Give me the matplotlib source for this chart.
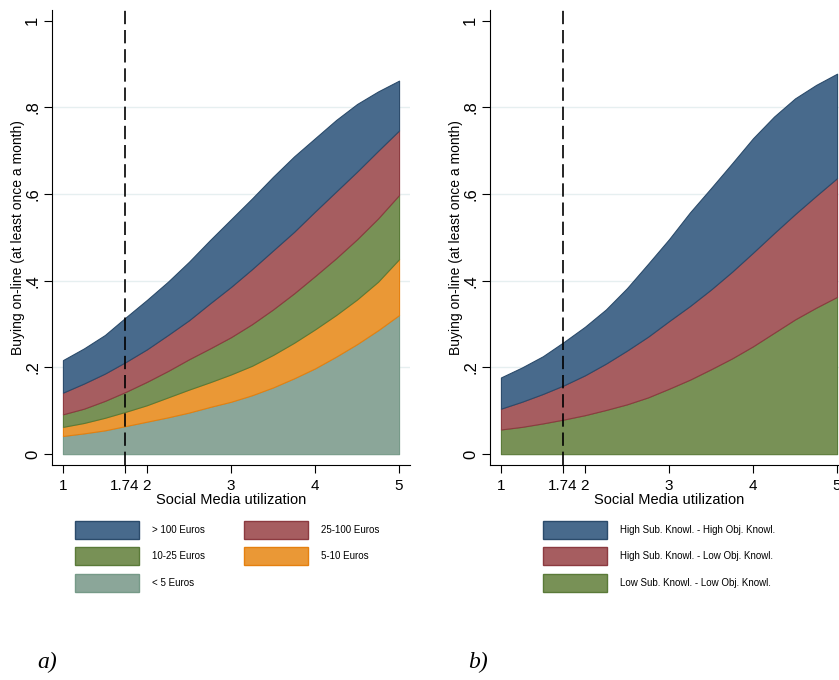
import numpy as np
import matplotlib as mpl
mpl.use('Agg')
import matplotlib.pyplot as plt  # noqa
from matplotlib.patches import Rectangle  # noqa

plt.rcParams['font.family'] = ['Liberation Sans', 'DejaVu Sans']

# social media utilization (x) and cumulative upper bounds of each band
x = [1, 1.25, 1.5, 1.75, 2, 2.25, 2.5, 2.75, 3,
     3.25, 3.5, 3.75, 4, 4.25, 4.5, 4.75, 5]

# panel a: spending classes, stacked from bottom
a_lt5 = [0.042, 0.048, 0.055, 0.065, 0.075, 0.085, 0.096, 0.109, 0.121,
         0.136, 0.154, 0.175, 0.198, 0.225, 0.254, 0.286, 0.321]
a_5_10 = [0.063, 0.072, 0.084, 0.098, 0.113, 0.131, 0.149, 0.166, 0.184,
          0.204, 0.229, 0.257, 0.288, 0.321, 0.357, 0.398, 0.450]
a_10_25 = [0.092, 0.105, 0.123, 0.144, 0.167, 0.192, 0.219, 0.244, 0.270,
           0.300, 0.334, 0.371, 0.411, 0.452, 0.496, 0.544, 0.598]
a_25_100 = [0.142, 0.163, 0.186, 0.213, 0.242, 0.275, 0.309, 0.348, 0.386,
            0.427, 0.470, 0.513, 0.560, 0.606, 0.652, 0.700, 0.747]
a_gt100 = [0.217, 0.244, 0.275, 0.316, 0.356, 0.398, 0.444, 0.494, 0.542,
           0.590, 0.640, 0.687, 0.729, 0.771, 0.808, 0.837, 0.862]
a_labels = ['> 100 Euros', '25-100 Euros', '10-25 Euros', '5-10 Euros',
            '< 5 Euros']

# panel b: knowledge groups, stacked from bottom
b_low_low = [0.057, 0.063, 0.071, 0.080, 0.090, 0.102, 0.115, 0.131, 0.151,
             0.172, 0.196, 0.221, 0.249, 0.280, 0.311, 0.338, 0.363]
b_high_low = [0.105, 0.121, 0.139, 0.159, 0.182, 0.209, 0.239, 0.271, 0.307,
              0.342, 0.380, 0.421, 0.465, 0.510, 0.554, 0.596, 0.637]
b_high_high = [0.177, 0.200, 0.226, 0.259, 0.294, 0.334, 0.383, 0.439, 0.496,
               0.558, 0.614, 0.671, 0.729, 0.779, 0.821, 0.852, 0.878]
b_labels = ['High Sub. Knowl. - High Obj. Knowl.',
            'High Sub. Knowl. - Low Obj. Knowl.',
            'Low Sub. Knowl. - Low Obj. Knowl.']

threshold = 1.74
xticks = [1, 1.74, 2, 3, 4, 5]
xticklabels = ['1', '1.74', '2', '3', '4', '5']
yticks = [0, 0.2, 0.4, 0.6, 0.8, 1]
yticklabels = ['0', '.2', '.4', '.6', '.8', '1']

blue = ('#486a8c', '#2b4b6b')
red = ('#a65d60', '#8c3a40')
green = ('#789156', '#5a7a38')
orange = ('#ea9836', '#e5800f')
grey = ('#8ba699', '#769a88')

W, H = 839, 680
fig = plt.figure(figsize=(W / 100, H / 100), dpi=100)


def px(x0, y0, x1, y1):
    return [x0 / W, 1 - y1 / H, (x1 - x0) / W, (y1 - y0) / H]


def panel(rect, bands):
    ax = fig.add_axes(rect)
    lower = np.zeros(len(x))
    for upper, (fc, ec) in bands:
        upper = np.asarray(upper)
        ax.fill_between(x, lower, upper, facecolor=fc, edgecolor=ec,
                        linewidth=0.8, zorder=2)
        lower = upper
    for yv in yticks[1:-1]:
        ax.axhline(yv, color='#e6eff0', lw=1, zorder=1)
    ax.axvline(threshold, color='black', lw=1.2, ls=(0, (8, 3.5)), zorder=3)
    ax.set_xlim(0.87, 5.13)
    ax.set_ylim(-0.025, 1.025)
    ax.set_xticks(xticks)
    ax.set_xticklabels(xticklabels, fontsize=11)
    ax.set_yticks(yticks)
    ax.set_yticklabels(yticklabels, fontsize=12, rotation=90, va='center')
    ax.tick_params(length=5.5, width=0.8, pad=3)
    ax.tick_params(axis='x', pad=4.5)
    for s in ['top', 'right']:
        ax.spines[s].set_visible(False)
    ax.spines['left'].set_linewidth(0.8)
    ax.spines['bottom'].set_linewidth(0.8)
    ax.set_xlabel('Social Media utilization', fontsize=10.5, labelpad=0)
    ax.set_ylabel('Buying on-line (at least once a month)', fontsize=10)
    ax.yaxis.set_label_coords(-0.075, 0.5)
    return ax


ax1 = panel(px(52, 10, 410, 465),
            [(a_gt100, blue), (a_25_100, red), (a_10_25, green),
             (a_5_10, orange), (a_lt5, grey)][::-1])
ax2 = panel(px(490, 10, 848, 465),
            [(b_high_high, blue), (b_high_low, red), (b_low_low, green)][::-1])


def legend_item(x0, y0, label, colors):
    fc, ec = colors
    fig.add_artist(Rectangle((x0 / W, 1 - (y0 + 18) / H), 64 / W, 18 / H,
                             facecolor=fc, edgecolor=ec, lw=1,
                             transform=fig.transFigure))
    fig.text((x0 + 77) / W, 1 - (y0 + 9) / H, label, fontsize=7,
             va='center', ha='left')


legend_item(75, 521, a_labels[0], blue)
legend_item(244, 521, a_labels[1], red)
legend_item(75, 547, a_labels[2], green)
legend_item(244, 547, a_labels[3], orange)
legend_item(75, 574, a_labels[4], grey)

legend_item(543, 521, b_labels[0], blue)
legend_item(543, 547, b_labels[1], red)
legend_item(543, 574, b_labels[2], green)

fig.text(37 / W, 1 - 662 / H, 'a)', fontsize=17, style='italic',
         family='Liberation Serif', va='center')
fig.text(468 / W, 1 - 662 / H, 'b)', fontsize=17, style='italic',
         family='Liberation Serif', va='center')

fig.savefig('out.png', dpi=100)
